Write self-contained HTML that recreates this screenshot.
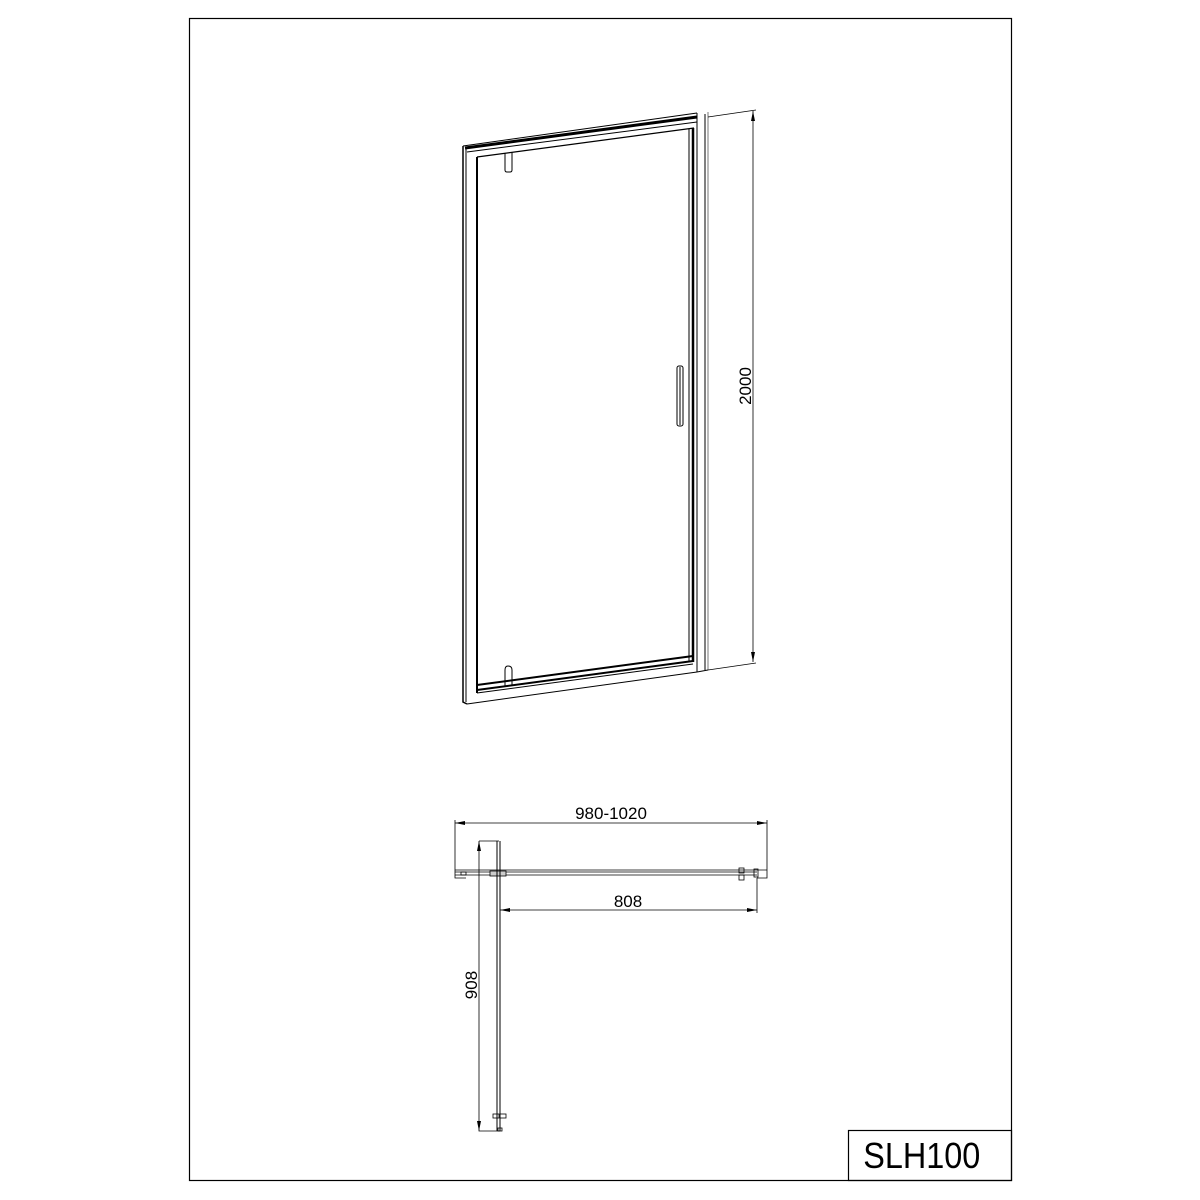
<!DOCTYPE html>
<html><head><meta charset="utf-8"><style>html,body{margin:0;padding:0;background:#fff}svg{display:block}</style></head>
<body>
<svg width="1200" height="1200" viewBox="0 0 1200 1200" xmlns="http://www.w3.org/2000/svg" font-family="Liberation Sans, sans-serif">
<rect x="0" y="0" width="1200" height="1200" fill="#fff"/>
<rect x="189.5" y="18.5" width="822" height="1162" fill="none" stroke="#000" stroke-width="1.2"/>
<rect x="848.5" y="1130.5" width="163" height="50" fill="none" stroke="#000" stroke-width="1.2"/>
<text x="922" y="1168" font-size="36" text-anchor="middle" fill="#000" transform="translate(92,0) scale(0.9,1)">SLH100</text>

<g stroke="#000" fill="none">
<path d="M463 146 L463 702 L467 704" stroke-width="1.5"/>
<path d="M466 147 L466 702" stroke-width="1"/>
<path d="M463 146 L697 113" stroke-width="1"/>
<path d="M465 148 L697 117" stroke-width="3"/>
<path d="M467 152 L697 122" stroke-width="1"/>
<path d="M467 704 L697 672" stroke-width="1"/>
<path d="M697 113 L697 672" stroke-width="1"/>
<path d="M705 114 L705 670" stroke-width="1"/>
<path d="M708 112 L708 670" stroke-width="0.8" stroke="#555"/>
<path d="M697 672 L708 670" stroke-width="1"/>
<path d="M477 157 L477 693" stroke-width="2"/>
<path d="M477 157 L694 128" stroke-width="1.2"/>
<path d="M693 128 L693 662" stroke-width="2.5"/>
<path d="M689 129 L689 661" stroke-width="1"/>
<path d="M477 685 L693 656" stroke-width="2"/>
<path d="M477 690 L693 661" stroke-width="2"/>
<path d="M477 693 L693 664" stroke-width="1"/>
<path d="M505 153 L505 170 Q505 172 507 172 L510 172 Q512 172 512 170 L512 152" stroke-width="1"/>
<path d="M505 687 L505 670 Q505 666 508 666 Q512 666 512 670 L512 686" stroke-width="1"/>
<rect x="677" y="366" width="6" height="60" rx="2" stroke-width="1"/>
<path d="M680 367 L680 425" stroke-width="1"/>
<path d="M708 117 L756 110" stroke-width="0.8"/>
<path d="M708 670 L756 663" stroke-width="0.8"/>
<path d="M753 111 L753 662" stroke-width="0.8"/>
</g>
<path d="M753 111 L751 121 L755 121 Z" fill="#000"/>
<path d="M753 662 L751 652 L755 652 Z" fill="#000"/>
<text transform="translate(751,386) rotate(-90)" font-size="17" text-anchor="middle" fill="#000">2000</text>

<g stroke="#000" fill="none" stroke-width="0.8">
<path d="M455 820 L455 878 L466 878"/>
<path d="M767 820 L767 878 L757 878"/>
<path d="M455 823 L767 823"/>
<path d="M455 870 L767 870"/>
<path d="M455 872 L757 872"/>
<path d="M455 875 L757 875"/>
<rect x="461" y="872" width="5" height="3"/>
<rect x="490" y="871" width="16" height="5" fill="#ccc"/>
<rect x="739" y="868" width="5" height="5"/>
<rect x="739" y="875" width="5" height="5"/>
<rect x="754" y="869" width="4" height="8"/>
<path d="M479 841 L499 841"/>
<path d="M497 841 L497 1131" stroke-width="1"/>
<path d="M500 841 L500 1131" stroke-width="1"/>
<path d="M479 841 L479 1131 L500 1131"/>
<rect x="493" y="1114" width="6" height="4"/>
<rect x="500" y="1114" width="6" height="4"/>
<rect x="498" y="1128" width="4" height="3"/>
<path d="M500 910 L757 910"/>
<path d="M757 878 L757 913"/>
</g>
<path d="M455 823 L465 821 L465 825 Z" fill="#000"/>
<path d="M767 823 L757 821 L757 825 Z" fill="#000"/>
<path d="M500 910 L510 908 L510 912 Z" fill="#000"/>
<path d="M757 910 L747 908 L747 912 Z" fill="#000"/>
<path d="M479 841 L477 851 L481 851 Z" fill="#000"/>
<path d="M479 1131 L477 1121 L481 1121 Z" fill="#000"/>
<text x="611" y="819" font-size="17" text-anchor="middle" fill="#000">980-1020</text>
<text x="628" y="907" font-size="17" text-anchor="middle" fill="#000">808</text>
<text transform="translate(477,985) rotate(-90)" font-size="17" text-anchor="middle" fill="#000">908</text>
</svg>
</body></html>
